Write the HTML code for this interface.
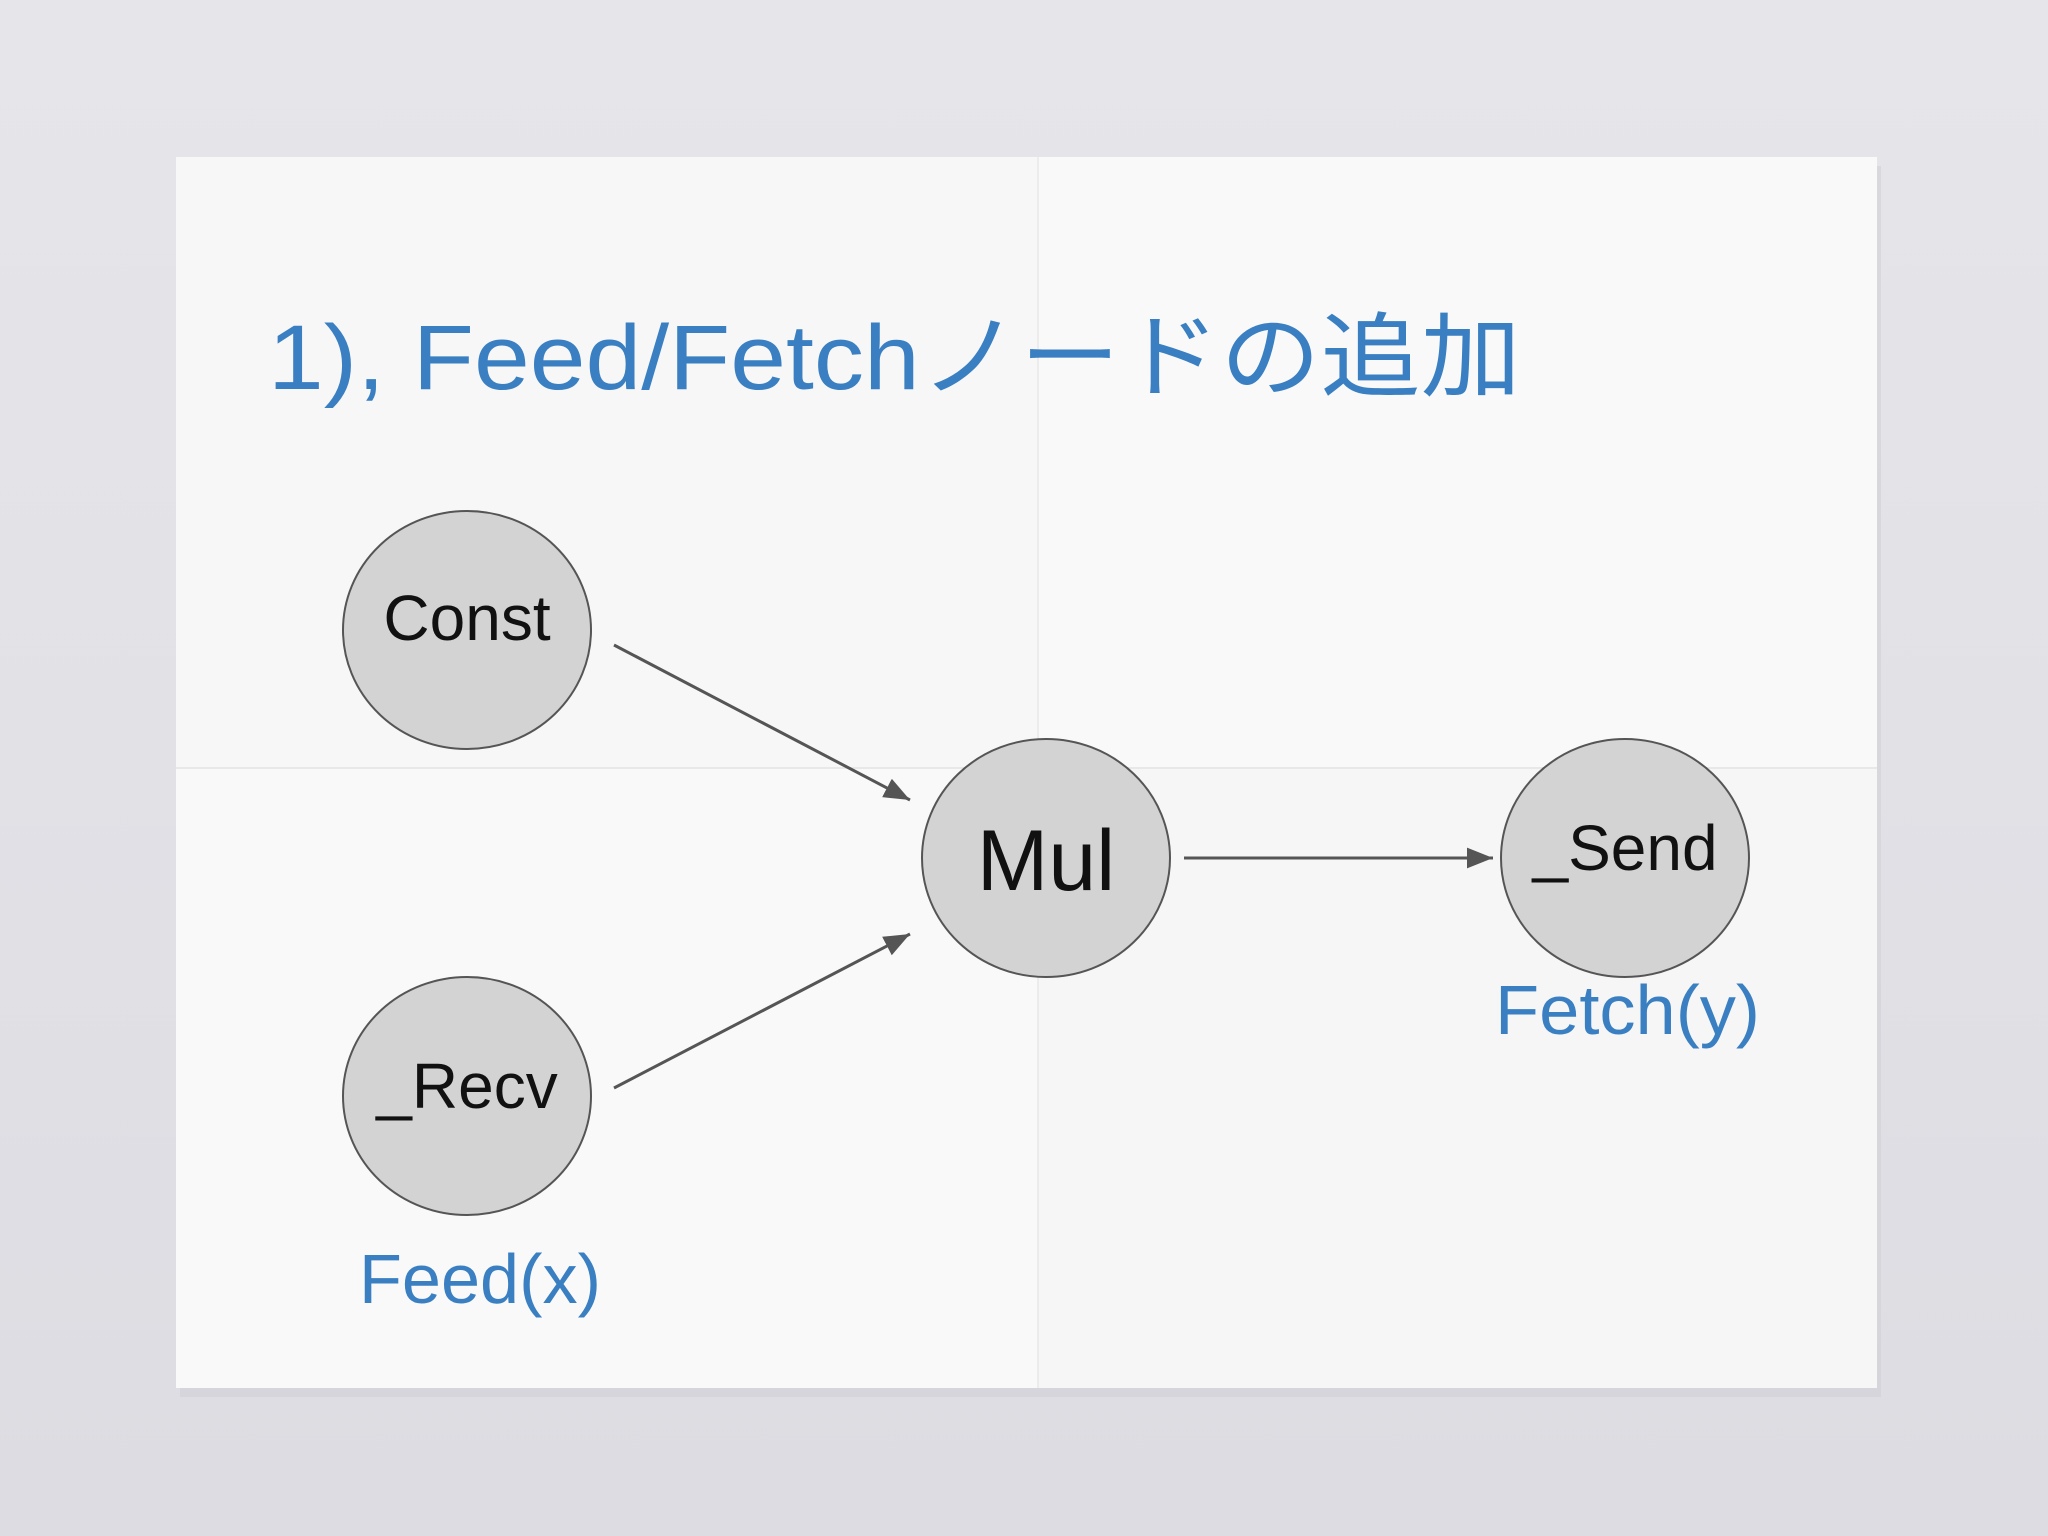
<!DOCTYPE html>
<html><head><meta charset="utf-8"><style>
html,body{margin:0;padding:0;width:2048px;height:1536px;overflow:hidden;background:#e4e4e9;}
svg{display:block}
</style></head><body>
<svg width="2048" height="1536" viewBox="0 0 2048 1536" xmlns="http://www.w3.org/2000/svg">
<defs>
<linearGradient id="bg" x1="0" y1="0" x2="0" y2="1"><stop offset="0" stop-color="#e6e6ea"/><stop offset="1" stop-color="#dcdce2"/></linearGradient>
<marker id="a" viewBox="0 0 10 10" refX="10" refY="5" markerWidth="26" markerHeight="26" markerUnits="userSpaceOnUse" orient="auto"><path d="M0,1 L10,5 L0,9 z" fill="#555"/></marker>
</defs>
<rect width="2048" height="1536" fill="url(#bg)"/>
<rect x="180" y="166" width="1701" height="1231" fill="#d0d0d6" opacity="0.6"/>
<rect x="176" y="157" width="1701" height="1231" fill="#f9f9f9"/>
<rect x="176" y="157" width="862" height="611" fill="#f7f7f7"/>
<rect x="1038" y="768" width="839" height="620" fill="#f6f6f6"/>
<line x1="1038" y1="157" x2="1038" y2="1388" stroke="#ececec" stroke-width="2"/>
<line x1="176" y1="768" x2="1877" y2="768" stroke="#e8e8e8" stroke-width="2"/>
<text x="268" y="389" font-family="Liberation Sans, Noto Sans CJK JP, sans-serif" font-size="92" fill="#3a7fc1" textLength="1253" lengthAdjust="spacingAndGlyphs">1), Feed/Fetchノードの追加</text>
<g stroke="#555" stroke-width="3" fill="none">
<line x1="614" y1="645" x2="910" y2="800" marker-end="url(#a)"/>
<line x1="614" y1="1088" x2="910" y2="934" marker-end="url(#a)"/>
<line x1="1184" y1="858" x2="1493" y2="858" marker-end="url(#a)"/>
</g>
<g fill="#d3d3d3" stroke="#555" stroke-width="2">
<ellipse cx="467" cy="630" rx="124" ry="119"/>
<ellipse cx="467" cy="1096" rx="124" ry="119"/>
<ellipse cx="1046" cy="858" rx="124" ry="119"/>
<ellipse cx="1625" cy="858" rx="124" ry="119"/>
</g>
<g font-family="Liberation Sans, sans-serif" fill="#111" text-anchor="middle">
<text x="467" y="640" font-size="64">Const</text>
<text x="1046" y="890" font-size="86">Mul</text>
<text x="1625" y="870" font-size="64">_Send</text>
<text x="467" y="1108" font-size="64">_Recv</text>
</g>
<g font-family="Liberation Sans, sans-serif" fill="#3a7fc1">
<text x="359" y="1303" font-size="70" textLength="242" lengthAdjust="spacingAndGlyphs">Feed(x)</text>
<text x="1495" y="1034" font-size="70" textLength="265" lengthAdjust="spacingAndGlyphs">Fetch(y)</text>
</g>
</svg>
</body></html>
